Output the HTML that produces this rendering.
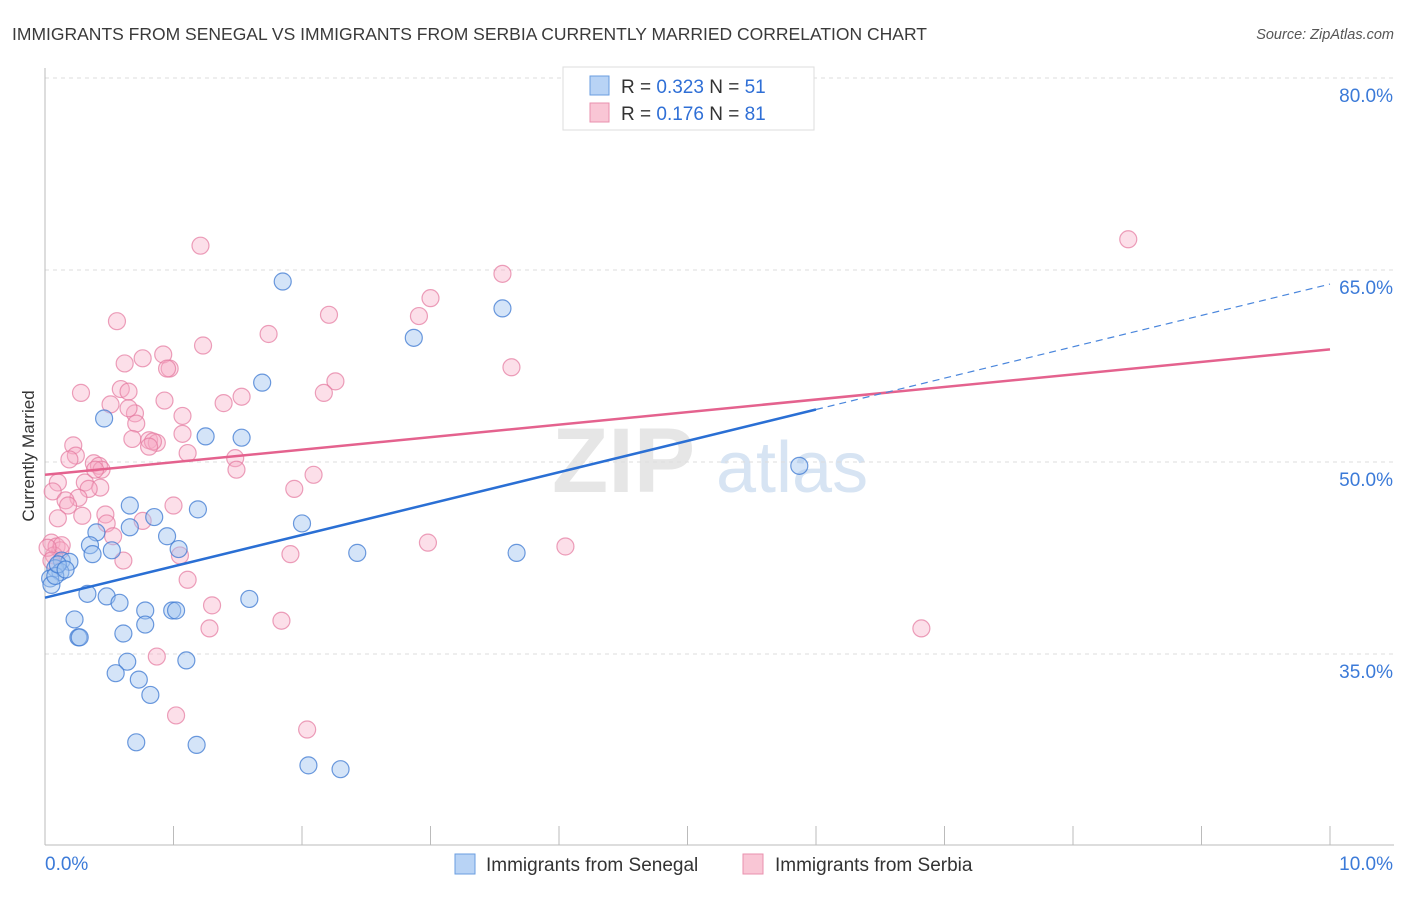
<!DOCTYPE html>
<html><head><meta charset="utf-8">
<style>
body{margin:0;background:#fff;font-family:"Liberation Sans",sans-serif;}
svg text{font-family:"Liberation Sans",sans-serif;}
</style></head>
<body>
<svg id="chart" width="1406" height="892" viewBox="0 0 1406 892" xmlns="http://www.w3.org/2000/svg">
<text x="12" y="40" font-size="17.5" fill="#3a3a3a">IMMIGRANTS FROM SENEGAL VS IMMIGRANTS FROM SERBIA CURRENTLY MARRIED CORRELATION CHART</text>
<text x="1394" y="39" font-size="14.5" fill="#555" text-anchor="end" font-style="italic">Source: ZipAtlas.com</text>
<g>
<text x="552" y="492" font-size="92" fill="#e6e6e6" font-family="Liberation Serif" font-weight="bold">ZIP</text>
<text x="716" y="492" font-size="72" fill="#d7e4f3">atlas</text>
</g>
<g id="grid"></g>
<g id="axes"></g>
<g id="pts"></g>
<g id="trends"></g>
<text transform="translate(34,456) rotate(-90)" font-size="17" fill="#333" text-anchor="middle">Currently Married</text>
<g>
<rect x="563" y="67" width="251" height="63" fill="#fff" stroke="#ddd"/>
<rect x="590" y="76" width="19" height="19" fill="#b8d3f5" stroke="#6a9ee0"/>
<rect x="590" y="103" width="19" height="19" fill="#f9c6d5" stroke="#e990ae"/>
<text x="621" y="93" font-size="19" fill="#333">R = <tspan fill="#2f6fd6">0.323</tspan>   N = <tspan fill="#2f6fd6">51</tspan></text>
<text x="621" y="120" font-size="19" fill="#333">R =  <tspan fill="#2f6fd6">0.176</tspan>   N = <tspan fill="#2f6fd6">81</tspan></text>
</g>
<g>
<rect x="455" y="854" width="20" height="20" fill="#b8d3f5" stroke="#6a9ee0"/>
<text x="486" y="871" font-size="19" fill="#333">Immigrants from Senegal</text>
<rect x="743" y="854" width="20" height="20" fill="#f9c6d5" stroke="#e990ae"/>
<text x="775" y="871" font-size="19" fill="#333">Immigrants from Serbia</text>
</g>
</svg>
<script>
const yTicks=[80,65,50,35];
const yTickLabels=["80.0%","65.0%","50.0%","35.0%"];
const xTickLabels=["0.0%","10.0%"];
const senegalX=[1.85,3.56,2.87,1.69,0.46,1.25,1.53,5.87,0.66,1.19,0.85,2.0,0.66,0.40,0.95,0.35,0.52,1.04,0.37,2.43,3.67,0.13,0.19,0.08,0.12,0.04,0.05,0.33,0.48,0.58,1.59,0.78,0.99,1.02,0.23,0.78,0.61,0.26,0.27,0.64,1.10,0.55,0.73,0.82,0.71,1.18,2.05,2.30,0.08,0.10,0.16];
const senegalY=[64.1,62.0,59.7,56.2,53.4,52.0,51.9,49.7,46.6,46.3,45.7,45.2,44.9,44.5,44.2,43.5,43.1,43.2,42.8,42.9,42.9,42.3,42.2,41.7,41.4,40.9,40.4,39.7,39.5,39.0,39.3,38.4,38.4,38.4,37.7,37.3,36.6,36.3,36.3,34.4,34.5,33.5,33.0,31.8,28.1,27.9,26.3,26.0,41.1,42.0,41.6];
const serbiaX=[1.21,8.43,3.56,3.00,2.91,2.21,0.56,1.74,1.23,0.92,0.76,0.62,0.97,0.95,2.26,0.28,0.59,0.65,1.53,2.17,3.63,0.51,0.93,1.39,0.70,0.65,1.07,0.71,0.81,0.68,0.87,0.84,1.07,0.22,0.81,1.11,0.24,0.19,1.48,1.49,0.38,0.42,0.44,2.09,0.31,0.10,0.43,0.34,1.94,0.06,0.26,0.16,0.18,1.0,0.10,0.29,0.47,0.76,0.48,0.53,0.05,0.09,0.12,2.98,4.05,0.61,1.91,1.05,1.11,1.30,1.84,1.28,6.82,0.87,1.02,2.04,0.07,0.13,0.02,0.05,0.39];
const serbiaY=[66.9,67.4,64.7,62.8,61.4,61.5,61.0,60.0,59.1,58.4,58.1,57.7,57.3,57.3,56.3,55.4,55.7,55.5,55.1,55.4,57.4,54.5,54.8,54.6,53.8,54.2,53.6,53.0,51.7,51.8,51.5,51.6,52.2,51.3,51.2,50.7,50.5,50.2,50.3,49.4,49.9,49.7,49.4,49.0,48.4,48.4,48.0,47.9,47.9,47.7,47.2,47.0,46.6,46.6,45.6,45.8,45.9,45.4,45.2,44.2,43.7,43.4,43.1,43.7,43.4,42.3,42.8,42.7,40.8,38.8,37.6,37.0,37.0,34.8,30.2,29.1,42.7,43.5,43.3,42.3,49.4];
const senegalTrend=[39.4,63.9];
const serbiaTrend=[49.0,58.8];
const senegalSolidEnd=6.0;

const NS="http://www.w3.org/2000/svg";
const X0=45,X1=1330,Y80=78,PX_PER=12.8;
const sx=v=>X0+(X1-X0)*v/10;
const sy=v=>Y80+(80-v)*PX_PER;
function mk(tag,attrs,parent){const e=document.createElementNS(NS,tag);for(const k in attrs)e.setAttribute(k,attrs[k]);parent.appendChild(e);return e;}
const grid=document.getElementById('grid'),axes=document.getElementById('axes'),pts=document.getElementById('pts'),tr=document.getElementById('trends');
yTicks.forEach((t,i)=>{
  const l=mk('line',{x1:X0,x2:1394,y1:sy(t),y2:sy(t),stroke:'#ddd','stroke-dasharray':'4,4'},grid);
  
  
  const tx=mk('text',{x:1393,y:sy(t)+24,'font-size':19,fill:'#3b7ad8','text-anchor':'end'},axes);
  tx.textContent=yTickLabels[i];
  
  
});
const la=mk('line',{x1:X0,x2:X0,y1:68,y2:845,stroke:'#bbb'},axes);


const ba=mk('line',{x1:X0,x2:1394,y1:845,y2:845,stroke:'#bbb'},axes);


for(let i=0;i<=10;i++){
  const t=mk('line',{x1:sx(i),x2:sx(i),y1:826,y2:845,stroke:'#bbb'},axes);
  
  
}
[[0,'start',45],[10,'end',1393]].forEach((d,i)=>{
  const tx=mk('text',{x:d[2],y:870,'font-size':19,fill:'#3b7ad8','text-anchor':d[1]},axes);
  tx.textContent=xTickLabels[i];
  
  
});
function dots(xs,ys,fill,stroke,name){
  xs.forEach((x,i)=>{
    const c=mk('circle',{cx:sx(x),cy:sy(ys[i]),r:8.5,fill:fill,stroke:stroke,'stroke-width':1.2},pts);
    
    
  });
}
dots(serbiaX,serbiaY,'rgba(246,170,196,0.38)','rgba(228,120,158,0.7)','serbia-point');
dots(senegalX,senegalY,'rgba(160,196,240,0.45)','rgba(60,120,210,0.75)','senegal-point');
const yAt=(tr2,x)=>tr2[0]+(tr2[1]-tr2[0])*x/10;
const pl=mk('line',{x1:sx(0),y1:sy(serbiaTrend[0]),x2:sx(10),y2:sy(serbiaTrend[1]),stroke:'#e4628e','stroke-width':2.5},tr);


const bl=mk('line',{x1:sx(0),y1:sy(senegalTrend[0]),x2:sx(senegalSolidEnd),y2:sy(yAt(senegalTrend,senegalSolidEnd)),stroke:'#2a6fd4','stroke-width':2.5},tr);


const bd=mk('line',{x1:sx(senegalSolidEnd),y1:sy(yAt(senegalTrend,senegalSolidEnd)),x2:sx(10),y2:sy(senegalTrend[1]),stroke:'#4a86dc','stroke-width':1.2,'stroke-dasharray':'7,5'},tr);


</script>
</body></html>
